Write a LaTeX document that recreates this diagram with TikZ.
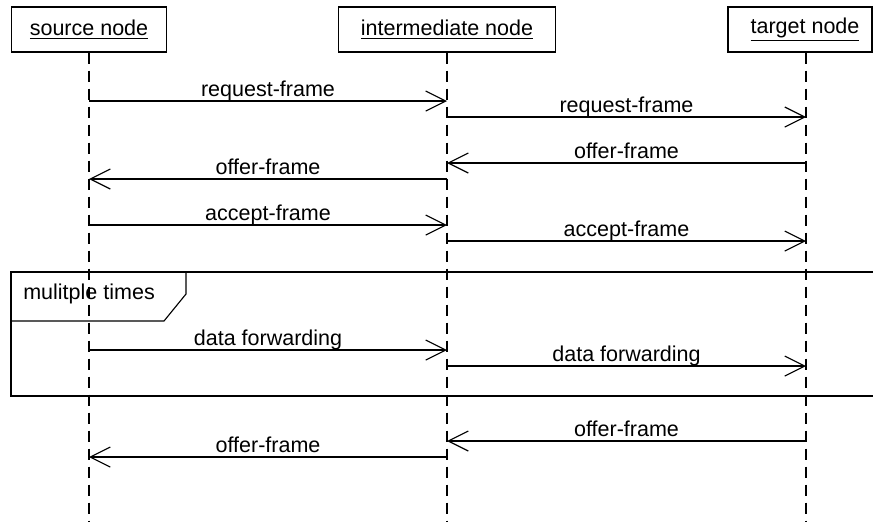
\documentclass[tikz,border=0pt]{standalone}
\usepackage{fontspec}
\setmainfont{Liberation Sans}
\usetikzlibrary{arrows.meta}

\begin{document}
\begin{tikzpicture}[x=0.025cm, y=-0.025cm, font=\fontsize{15.3}{18}\selectfont,
    lane/.style={draw, line width=0.8pt, minimum height=1.125cm, inner sep=0pt},
    life/.style={line width=0.8pt, dash pattern=on 7.8pt off 5pt},
    msg/.style={line width=0.8pt, -{Straight Barb[length=0.5cm, width=0.5cm, line width=0.8pt]}},
    lbl/.style={anchor=base, yshift=0.11cm, inner sep=0pt}]
            \clip (0,0) rectangle (873,521);
            % lanes
            \node[lane, minimum width=3.875cm] (src) at (89,29.5) {\underline{source node}};
            \node[lane, minimum width=5.43cm] (mid) at (447,29.5) {\underline{intermediate node}};
            \node[lane, minimum width=3.6cm] (tgt) at (800,29.5) {\hspace{0.25cm}\underline{target node}};
            \coordinate (srcend) at (89,521);
            \coordinate (midend) at (447,521);
            \coordinate (tgtend) at (806,521);
            \draw[life] (src) -- (srcend);
            \draw[life] (mid) -- (midend);
            \draw[life] (tgt.south -| tgtend) -- (tgtend);
            % handshake
            \draw[msg] (src |- 0,101) -- (mid |- 0,101) node[lbl, midway]{request-frame};
            \draw[msg] (mid |- 0,117) -- (tgtend |- 0,117) node[lbl, midway]{request-frame};
            \draw[msg] (tgtend |- 0,163) -- (mid |- 0,163) node[lbl, midway]{offer-frame};
            \draw[msg] (mid |- 0,179) -- (src |- 0,179) node[lbl, midway]{offer-frame};
            \draw[msg] (src |- 0,225) -- (mid |- 0,225) node[lbl, midway]{accept-frame};
            \draw[msg] (mid |- 0,241) -- (tgtend |- 0,241) node[lbl, midway]{accept-frame};
            % loop
            \draw[line width=0.8pt] (11,272) rectangle (900,396);
            \draw[line width=0.8pt] (11,272) -- (186,272) -- (186,294) -- (164,321) -- (11,321);
            \node[anchor=base west, inner sep=0pt] (loop) at (23,299) {mulitple times};
            \draw[msg] (src |- 0,350) -- (mid |- 0,350) node[lbl, midway]{data forwarding};
            \draw[msg] (mid |- 0,366) -- (tgtend |- 0,366) node[lbl, midway]{data forwarding};
            % last offer
            \draw[msg] (tgtend |- 0,441) -- (mid |- 0,441) node[lbl, midway]{offer-frame};
            \draw[msg] (mid |- 0,457) -- (src |- 0,457) node[lbl, midway]{offer-frame};
        \end{tikzpicture}
\end{document}
